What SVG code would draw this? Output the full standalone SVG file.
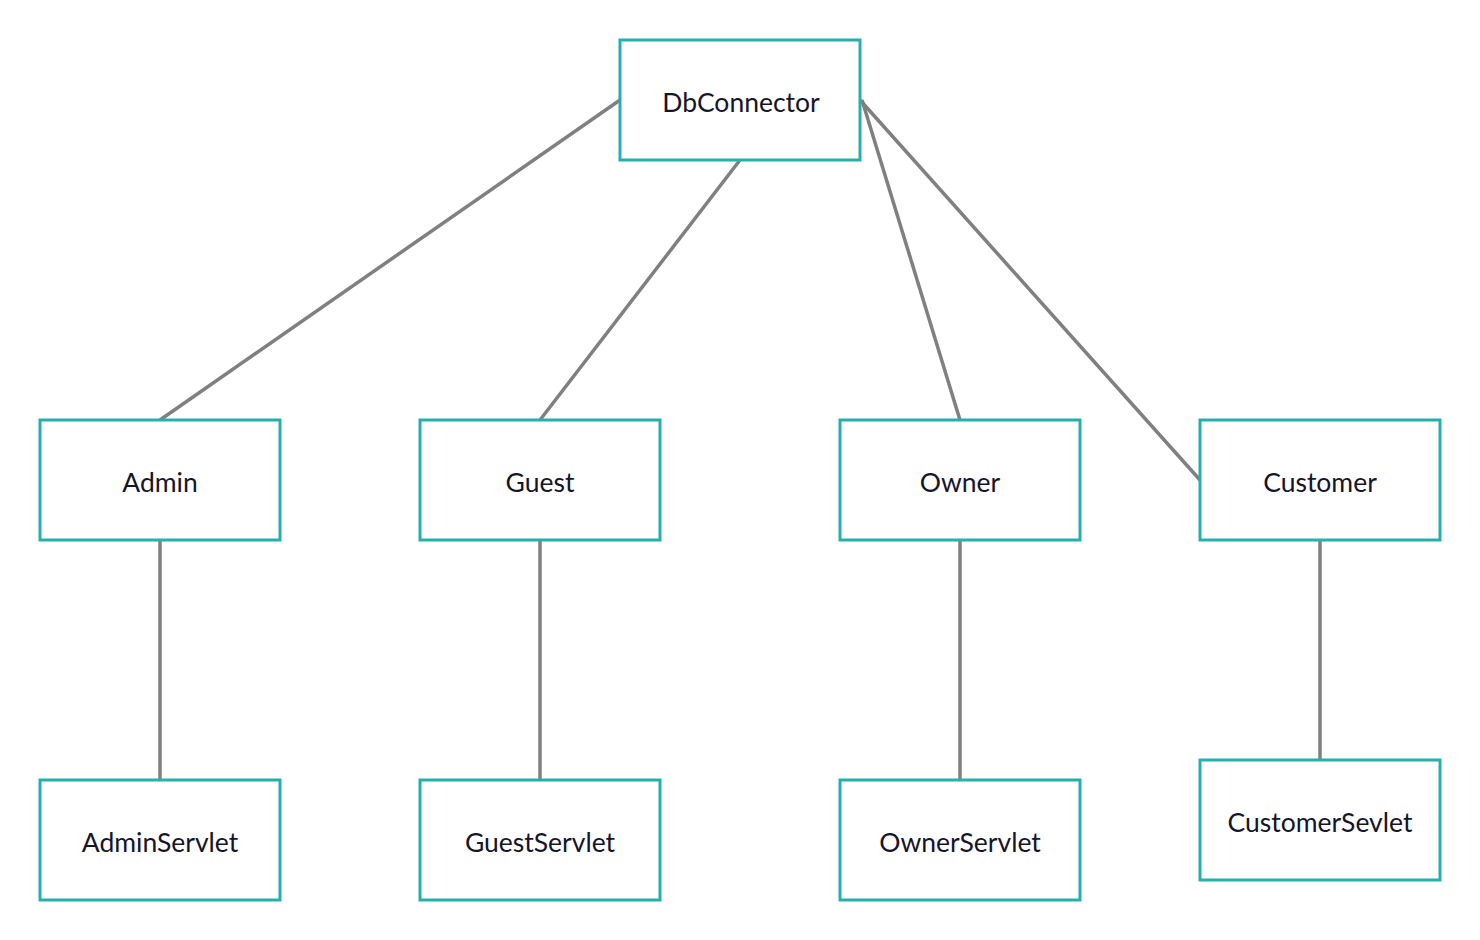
<svg xmlns="http://www.w3.org/2000/svg" width="1480" height="940" viewBox="0 0 1480 940">
<style>
.box{fill:#fff;stroke:#26b0ab;stroke-width:3}
.lbl{font-family:Lato,"Liberation Sans",sans-serif;font-size:26.5px;fill:#14142b;text-anchor:middle;dominant-baseline:central}
.con{stroke:#808080;stroke-width:3.5;fill:none}
</style>
<rect width="1480" height="940" fill="#fff"/>
<g id="connectors">
<line class="con" x1="620" y1="100" x2="160" y2="420"/>
<line class="con" x1="740" y1="160" x2="540" y2="420"/>
<line class="con" x1="862" y1="100" x2="960" y2="420"/>
<line class="con" x1="860" y1="100" x2="1200" y2="480"/>
<line class="con" x1="160" y1="540" x2="160" y2="780"/>
<line class="con" x1="540" y1="540" x2="540" y2="780"/>
<line class="con" x1="960" y1="540" x2="960" y2="780"/>
<line class="con" x1="1320" y1="540" x2="1320" y2="760"/>
</g>
<g id="dbconnector"><rect class="box" x="620" y="40" width="240" height="120"/><text class="lbl" x="741" y="102">DbConnector</text></g>
<g id="admin"><rect class="box" x="40" y="420" width="240" height="120"/><text class="lbl" x="160" y="482">Admin</text></g>
<g id="guest"><rect class="box" x="420" y="420" width="240" height="120"/><text class="lbl" x="540" y="482">Guest</text></g>
<g id="owner"><rect class="box" x="840" y="420" width="240" height="120"/><text class="lbl" x="960" y="482">Owner</text></g>
<g id="customer"><rect class="box" x="1200" y="420" width="240" height="120"/><text class="lbl" x="1320" y="482">Customer</text></g>
<g id="adminservlet"><rect class="box" x="40" y="780" width="240" height="120"/><text class="lbl" x="160" y="842">AdminServlet</text></g>
<g id="guestservlet"><rect class="box" x="420" y="780" width="240" height="120"/><text class="lbl" x="540" y="842">GuestServlet</text></g>
<g id="ownerservlet"><rect class="box" x="840" y="780" width="240" height="120"/><text class="lbl" x="960" y="842">OwnerServlet</text></g>
<g id="customersevlet"><rect class="box" x="1200" y="760" width="240" height="120"/><text class="lbl" x="1320" y="822">CustomerSevlet</text></g>
</svg>
